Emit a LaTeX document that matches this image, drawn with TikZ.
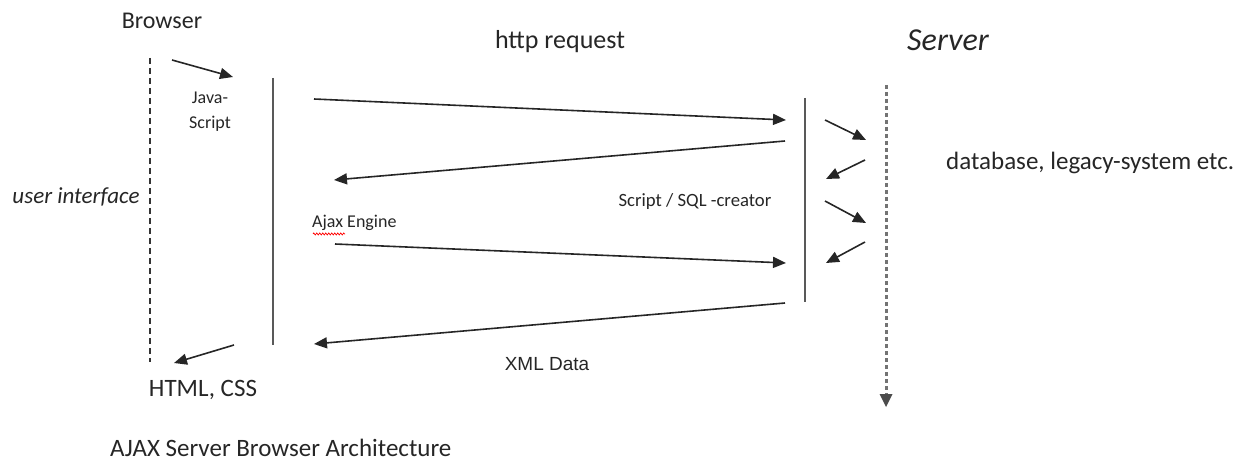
\documentclass[tikz,border=0pt]{standalone}
\usepackage{fontspec}
\setmainfont{Carlito}
\newfontfamily\arialfont{Liberation Sans}
\usetikzlibrary{arrows.meta,decorations.pathmorphing}

\tikzset{
  txt/.style={inner sep=0pt, text=black!85},
  flow/.style={draw=black!85, line width=1.6pt, -{Triangle[length=13pt,width=11pt]}},
  tier/.style={draw=black!65, line width=1.8pt},
}

\begin{document}
\begin{tikzpicture}[x=1pt,y=-1pt]
  \useasboundingbox (0,0) rectangle (1249,462);

  % ---- labels ----
  \node[txt, font=\fontsize{24}{28}\selectfont] (browser) at (162,21) {Browser};
  \node[txt, font=\fontsize{26}{30}\selectfont] (http) at (560,42) {http request};
  \node[txt, font=\fontsize{32}{36}\selectfont\itshape] (server) at (948,40) {Server};
  \node[txt, font=\fontsize{18}{25}\selectfont, align=center] (js) at (210,112) {Java-\\Script};
  \node[txt, font=\fontsize{23}{27}\selectfont\itshape] (ui) at (76,197) {user interface};
  \node[txt, font=\fontsize{18}{22}\selectfont, anchor=west] (ajax) at (312,223) {Ajax Engine};
  \node[txt, font=\fontsize{18.7}{22}\selectfont] (sql) at (695,202) {Script / SQL -creator};
  \node[txt, font=\fontsize{25}{29}\selectfont, anchor=west] (db) at (946,163) {database, legacy-system etc.};
  \node[txt, font=\fontsize{25}{29}\selectfont] (html) at (203,390) {HTML, CSS};
  \node[txt, font=\arialfont\fontsize{19}{22}\selectfont] (xml) at (547,364) {XML Data};
  \node[txt, font=\fontsize{25}{29}\selectfont, anchor=west] (title) at (110,448) {AJAX Server Browser Architecture};

  % spell-check mark under the word Ajax
  \draw[red, line width=0.7pt, decorate,
        decoration={zigzag, segment length=3pt, amplitude=1pt}]
    (ajax.south west) ++(1,3) -- ++(32,0);

  % ---- tiers ----
  \coordinate (uiT) at (150,58);   \coordinate (uiB) at (150,362);
  \coordinate (engT) at (273,78);  \coordinate (engB) at (273,345);
  \coordinate (srvT) at (805,98);  \coordinate (srvB) at (805,302);
  \coordinate (backT) at (886,85); \coordinate (backB) at (886,407);

  \draw[draw=black!80, line width=1.8pt, dash pattern=on 6pt off 4pt] (uiT) -- (uiB);
  \draw[tier] (engT) -- (engB);
  \draw[tier] (srvT) -- (srvB);
  \draw[draw=black!55, line width=3pt, dash pattern=on 4pt off 3pt] (backT) -- (886,394);
  \draw[draw=black!70, line width=0pt, -{Triangle[length=13pt,width=13pt]}] (886,394) -- (backB);

  % ---- browser side ----
  \coordinate (b1) at (172,60);  \coordinate (b2) at (233,77);
  \draw[flow] (b1) -- (b2);
  \coordinate (h1) at (234,345); \coordinate (h2) at (174,363);
  \draw[flow] (h1) -- (h2);

  % ---- request / response flows ----
  \coordinate (r1s) at (314,99);  \coordinate (r1e) at (786,120);
  \coordinate (r2s) at (785,141); \coordinate (r2e) at (334,180);
  \coordinate (r3s) at (335,244); \coordinate (r3e) at (786,263);
  \coordinate (r4s) at (785,303); \coordinate (r4e) at (314,344);
  \draw[flow] (r1s) -- (r1e);
  \draw[flow] (r2s) -- (r2e);
  \draw[flow] (r3s) -- (r3e);
  \draw[flow] (r4s) -- (r4e);

  % ---- server to back end ----
  \coordinate (s1a) at (825,120); \coordinate (s1b) at (866,140);
  \coordinate (s2a) at (865,160); \coordinate (s2b) at (826,179);
  \coordinate (s3a) at (825,201); \coordinate (s3b) at (866,223);
  \coordinate (s4a) at (865,242); \coordinate (s4b) at (826,263);
  \draw[flow] (s1a) -- (s1b);
  \draw[flow] (s2a) -- (s2b);
  \draw[flow] (s3a) -- (s3b);
  \draw[flow] (s4a) -- (s4b);
\end{tikzpicture}
\end{document}
